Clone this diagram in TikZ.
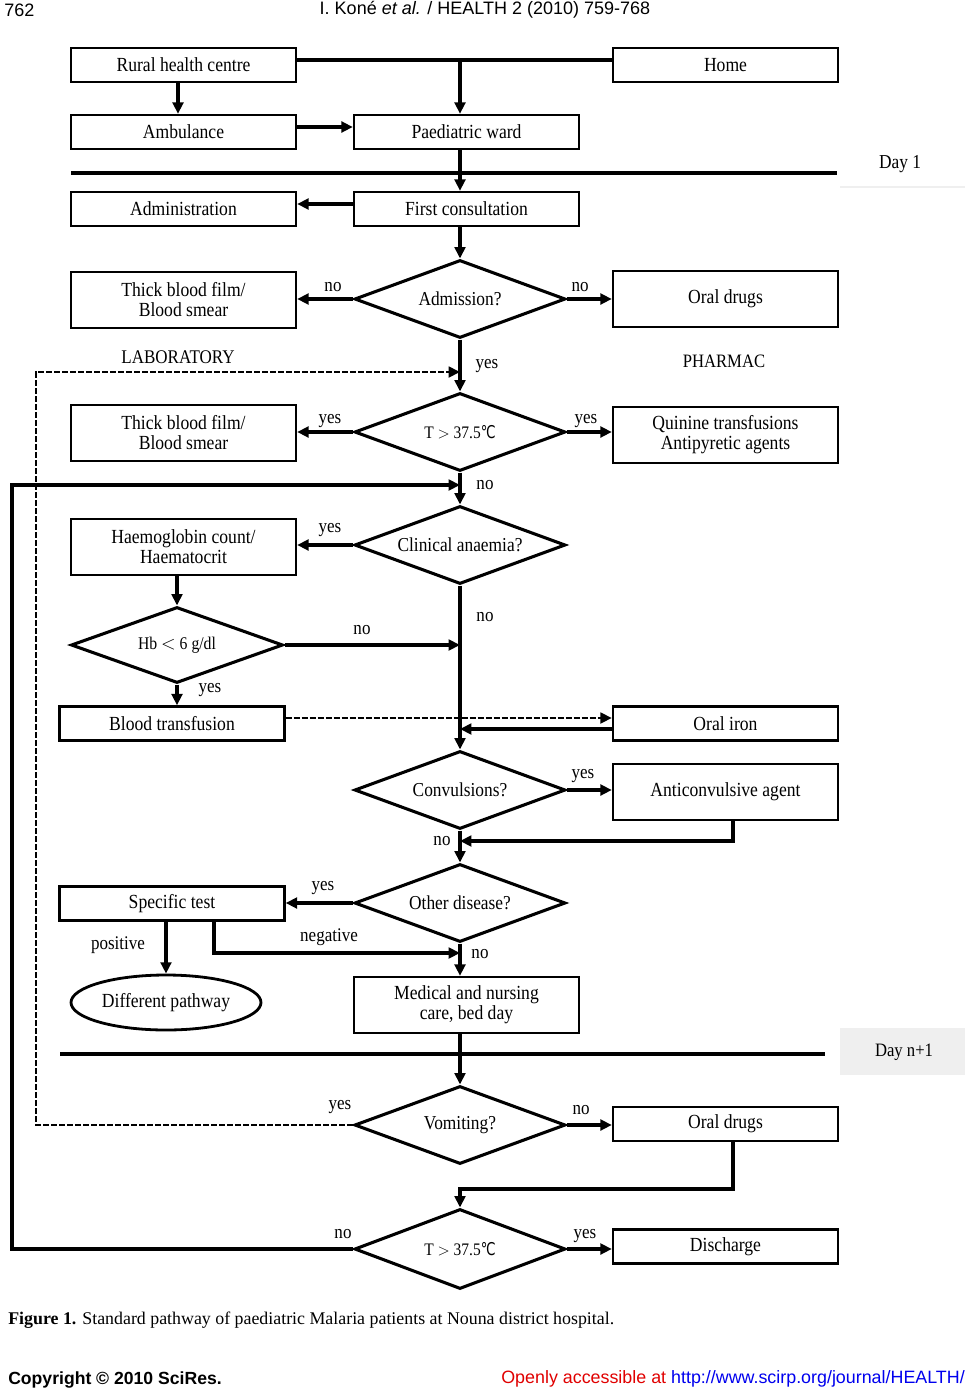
\documentclass[tikz,border=0pt]{standalone}
\usepackage{fontspec}
\setmainfont{Liberation Serif}
\newfontfamily\dfont{Liberation Serif}[FakeStretch=0.88]
\newfontfamily\hdfont{Liberation Sans}
\newfontfamily\symfont{DejaVu Sans}[FakeStretch=0.75]
\usetikzlibrary{shapes.geometric,arrows.meta}
\definecolor{linkblue}{HTML}{0000EE}
\definecolor{openred}{HTML}{E00000}
\definecolor{daygray}{HTML}{EFEFEF}
\newcommand{\degC}{{\symfont ℃}}
\newcommand{\dtext}[1]{\makebox[0pt]{#1}}
\newcommand{\fsz}[1]{\dfont\fontsize{#1}{15}\selectfont}
\begin{document}
\begin{tikzpicture}[x=0.75pt,y=-0.75pt,
  bx/.style={draw, line width=1.8pt, minimum width=168.75pt, minimum height=25.5pt,
    inner sep=0pt, align=center, font=\fsz{15}},
  tallbx/.style={bx, minimum height=42pt},
  dia/.style={draw, diamond, line width=2.3pt, minimum width=158.25pt, minimum height=58.5pt,
    inner sep=0pt, font=\fsz{14.8}},
  lbl/.style={inner sep=0pt, font=\fsz{14.5}},
  conn/.style={line width=2.3pt},
  arr/.style={conn, -{Triangle[length=8.5pt,width=8pt]}},
  dasharr/.style={line width=2pt, dash pattern=on 4.5pt off 1.5pt, -{Triangle[length=8.5pt,width=8pt]}},
  sepline/.style={line width=3pt}
]
\useasboundingbox (0,0) rectangle (967,1388);
% header
\node[anchor=west, inner sep=0pt, font=\hdfont\fontsize{13.5}{15}\selectfont] (pg) at (4,10) {762};
\node[inner sep=0pt, font=\hdfont\fontsize{13.5}{15}\selectfont] (hdr) at (485,10) {I. Koné \textit{et al.} / HEALTH 2 (2010) 759-768};

\coordinate (axis) at (460,0);
\coordinate (dashx) at (36,0);
\coordinate (solidx) at (12,0);

% boxes
\node[bx] (rural) at (183.5,65) {Rural health centre};
\node[bx] (home) at (725.5,65) {Home};
\node[bx] (amb) at (183.5,132) {Ambulance};
\node[bx] (pw) at (466.5,132) {Paediatric ward};
\node[bx] (adm) at (183.5,209) {Administration};
\node[bx] (fc) at (466.5,209) {First consultation};
\node[dia] (admq) at (460,299) {\dtext{Admission?}};
\node[tallbx] (tbf1) at (183.5,300) {Thick blood film/\\Blood smear};
\node[tallbx] (od1) at (725.5,299) {Oral drugs};
\node[dia, font=\fsz{13.2}] (t1) at (460,432) {\dtext{T $>$ 37.5\degC}};
\node[tallbx] (tbf2) at (183.5,433) {Thick blood film/\\Blood smear};
\node[tallbx] (quin) at (725.5,435) {Quinine transfusions\\Antipyretic agents};
\node[dia] (clin) at (460,545) {\dtext{Clinical anaemia?}};
\node[tallbx] (hgb) at (183.5,547) {Haemoglobin count/\\Haematocrit};
\node[dia, minimum width=159pt, minimum height=57pt, font=\fsz{13.4}] (hb) at (177,645) {\dtext{Hb $<$ 6 g/dl}};
\node[bx] (bt) at (172,723.5) {Blood transfusion};
\node[bx] (oi) at (725.5,723.5) {Oral iron};
\node[dia] (conv) at (460,790) {\dtext{Convulsions?}};
\node[tallbx] (anti) at (725.5,792) {Anticonvulsive agent};
\node[dia] (oth) at (460,903) {\dtext{Other disease?}};
\node[bx] (spec) at (172,903.5) {Specific test};
\node[draw, ellipse, line width=2.1pt, minimum width=142.5pt, minimum height=41.25pt, inner sep=0pt,
  font=\fsz{15}] (diff) at (166,1002.5) {Different pathway};
\node[tallbx] (med) at (466.5,1005) {Medical and nursing\\care, bed day};
\node[dia] (vom) at (460,1125) {\dtext{Vomiting?}};
\node[bx] (od2) at (725.5,1124) {Oral drugs};
\node[dia, minimum height=60pt, font=\fsz{13.2}] (t2) at (460,1249) {\dtext{T $>$ 37.5\degC}};
\node[bx] (dis) at (725.5,1246.5) {Discharge};

% section labels
\node[lbl, font=\fsz{14.5}] (lab) at (178,357) {LABORATORY};
\node[lbl, font=\fsz{14.2}] (pha) at (724,361) {PHARMAC};

% day separators
\draw[sepline] (71,173) -- (837,173);
\node[lbl, font=\fsz{14.8}] (day1) at (900,164) {Day 1};
\draw[draw=daygray, line width=2.2pt] (840,187) -- (965,187);
\fill[daygray] (840,1028) rectangle (965,1075);
\node[lbl, font=\fsz{14.2}] (dayn) at (904,1052) {Day n+1};
\draw[sepline] (60,1054) -- (825,1054);

% connectors
\coordinate (tj) at (460,60);
\draw[conn] (rural.east |- tj) -- (home.west |- tj);
\draw[arr] (tj) -- (pw.north -| axis);
\draw[arr] (rural.south -| 178,0) -- (amb.north -| 178,0);
\draw[arr] (amb.east |- 0,127) -- (pw.west |- 0,127);
\draw[arr] (pw.south -| axis) -- (fc.north -| axis);
\draw[arr] (fc.west |- 0,204) -- (adm.east |- 0,204);
\draw[arr] (fc.south -| axis) -- (admq.north);
\draw[arr] (admq.west) -- (tbf1.east |- admq.west);
\node[lbl] (no1) at (333,287) {no};
\draw[arr] (admq.east) -- (od1.west |- admq.east);
\node[lbl] (no2) at (580,287) {no};
\draw[arr] (admq.south) -- (t1.north);
\node[lbl] (yes1) at (487,366) {yes};
\coordinate (dashend) at (460,372);
\draw[dasharr] (vom.west) -- (vom.west -| dashx) -- (dashx |- dashend) -- (dashend);
\draw[arr] (t1.west) -- (tbf2.east |- t1.west);
\node[lbl] (yes2) at (330,421) {yes};
\draw[arr] (t1.east) -- (quin.west |- t1.east);
\node[lbl] (yes3) at (586,421) {yes};
\draw[arr] (t1.south) -- (clin.north);
\node[lbl] (no3) at (485,485) {no};
\coordinate (noend) at (460,485);
\draw[arr] (t2.west) -- (t2.west -| solidx) -- (solidx |- noend) -- (noend);
\node[lbl] (no10) at (343,1234) {no};
\draw[arr] (clin.west) -- (hgb.east |- clin.west);
\node[lbl] (yes4) at (330,530) {yes};
\draw[arr] (hgb.south -| hb.north) -- (hb.north);
\draw[arr] (hb.east) -- (hb.east -| axis);
\node[lbl] (no4) at (362,630) {no};
\draw[arr] (hb.south) -- (bt.north -| hb.south);
\node[lbl] (yes5) at (210,690) {yes};
\draw[dasharr] (bt.east |- 0,718) -- (oi.west |- 0,718);
\draw[arr] (oi.west |- 0,729) -- (axis |- 0,729);
\draw[arr] (clin.south) -- (conv.north);
\node[lbl] (no5) at (485,617) {no};
\draw[arr] (conv.east) -- (anti.west |- conv.east);
\node[lbl] (yes6) at (583,776) {yes};
\coordinate (ret1) at (733,841);
\draw[arr] (anti.south -| ret1) -- (ret1) -- (axis |- ret1);
\node[lbl] (no6) at (442,841) {no};
\draw[arr] (conv.south) -- (oth.north);
\draw[arr] (oth.west) -- (spec.east |- oth.west);
\node[lbl] (yes7) at (323,888) {yes};
\draw[arr] (spec.south -| diff.north) -- (diff.north);
\node[lbl] (pos) at (118,945) {positive};
\coordinate (negc) at (214,953);
\draw[arr] (spec.south -| negc) -- (negc) -- (axis |- negc);
\node[lbl] (neg) at (329,937) {negative};
\draw[arr] (oth.south) -- (med.north -| axis);
\node[lbl] (no7) at (480,954) {no};
\draw[arr] (med.south -| axis) -- (vom.north);
\draw[arr] (vom.east) -- (od2.west |- vom.east);
\node[lbl] (no8) at (581,1110) {no};
\node[lbl] (yes8) at (340,1107) {yes};
\coordinate (ret2) at (733,1189);
\draw[arr] (od2.south -| ret2) -- (ret2) -- (axis |- ret2) -- (t2.north);
\draw[arr] (t2.east) -- (dis.west |- t2.east);
\node[lbl] (yes9) at (585,1236) {yes};

% caption and footer
\node[anchor=west, inner sep=0pt, font=\fontsize{13.4}{15}\selectfont] (cap) at (8,1320)
  {\textbf{Figure 1.} Standard pathway of paediatric Malaria patients at Nouna district hospital.};
\node[anchor=west, inner sep=0pt, font=\hdfont\bfseries\fontsize{13.2}{15}\selectfont] (copy) at (8,1380)
  {Copyright © 2010 SciRes.};
\node[anchor=east, inner sep=0pt, font=\hdfont\fontsize{13.4}{15}\selectfont] (open) at (965,1380)
  {\textcolor{openred}{Openly accessible at }\textcolor{linkblue}{\underline{http://www.scirp.org/journal/HEALTH/}}};
\end{tikzpicture}
\end{document}
